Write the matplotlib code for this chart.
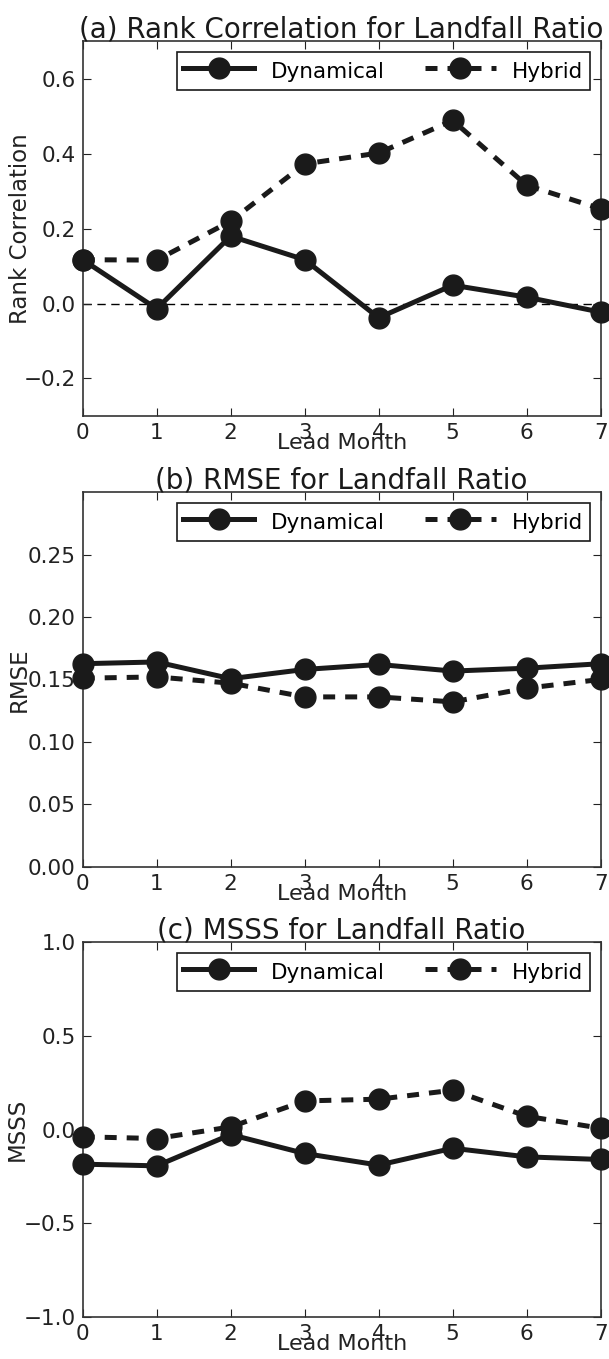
import matplotlib
matplotlib.use("Agg")
import matplotlib.pyplot as plt

lead = [0, 1, 2, 3, 4, 5, 6, 7]

rank_dyn = [0.117, -0.014, 0.180, 0.117, -0.038, 0.049, 0.017, -0.023]
rank_hyb = [0.117, 0.116, 0.220, 0.373, 0.402, 0.489, 0.316, 0.253]

rmse_dyn = [0.1626, 0.164, 0.1506, 0.158, 0.162, 0.1567, 0.159, 0.1626]
rmse_hyb = [0.151, 0.152, 0.147, 0.136, 0.136, 0.132, 0.143, 0.150]

msss_dyn = [-0.185, -0.194, -0.027, -0.128, -0.190, -0.100, -0.146, -0.160]
msss_hyb = [-0.039, -0.048, 0.014, 0.153, 0.162, 0.210, 0.071, 0.007]

titles = ["(a) Rank Correlation for Landfall Ratio",
          "(b) RMSE for Landfall Ratio",
          "(c) MSSS for Landfall Ratio"]
ylabels = ["Rank Correlation", "RMSE", "MSSS"]
ylabel_x = [-0.098, -0.101, -0.105]

col = "#1a1a1a"
txt = "#222222"
plt.rcParams["font.family"] = "DejaVu Sans"

fig = plt.figure(figsize=(6.09, 13.59), dpi=100)
left, width, height = 0.1358, 0.8505, 0.2755
bottoms = [0.694, 0.3623, 0.0311]

panels = [
    (rank_dyn, rank_hyb, (-0.3, 0.7), [-0.2, 0.0, 0.2, 0.4, 0.6], ["\u22120.2", "0.0", "0.2", "0.4", "0.6"]),
    (rmse_dyn, rmse_hyb, (0.0, 0.3), [0.0, 0.05, 0.10, 0.15, 0.20, 0.25], ["0.00", "0.05", "0.10", "0.15", "0.20", "0.25"]),
    (msss_dyn, msss_hyb, (-1.0, 1.0), [-1.0, -0.5, 0.0, 0.5, 1.0], ["\u22121.0", "\u22120.5", "0.0", "0.5", "1.0"]),
]

for i, (dyn, hyb, ylim, yt, ytl) in enumerate(panels):
    ax = fig.add_axes([left, bottoms[i], width, height])
    ax.plot(lead, dyn, "-o", color=col, lw=3.6, ms=15, label="Dynamical", clip_on=False, zorder=3)
    ax.plot(lead, hyb, "--o", color=col, lw=3.6, ms=15, label="Hybrid", clip_on=False, zorder=3,
            dashes=(2.4, 2.0))
    if i == 0:
        ax.axhline(0, color="black", lw=1.0, ls="--", dashes=(6, 4), zorder=1)
    ax.set_xlim(0, 7)
    ax.set_ylim(*ylim)
    ax.set_xticks(lead)
    ax.set_yticks(yt)
    ax.set_yticklabels(ytl)
    ax.tick_params(direction="in", top=True, right=True, length=6, labelsize=15.5, colors=txt, pad=5)
    for s in ax.spines.values():
        s.set_color("#333333")
        s.set_linewidth(1.2)
    ax.set_title(titles[i], fontsize=20, color=col, pad=3)
    ax.set_ylabel(ylabels[i], fontsize=16.5, color=txt)
    ax.yaxis.set_label_coords(ylabel_x[i], 0.5)
    ax.set_xlabel("Lead Month", fontsize=16, color=txt, labelpad=-7)
    leg = ax.legend(loc="upper right", ncol=2, fontsize=15.5, handlelength=3.3, columnspacing=1.86,
                    fancybox=False, framealpha=1, borderaxespad=0.5, handletextpad=0.77,
                    borderpad=0.3, handleheight=1.4)
    leg.get_frame().set_edgecolor(col)
    leg.get_frame().set_linewidth(1.2)

fig.savefig("out.png", dpi=100)
